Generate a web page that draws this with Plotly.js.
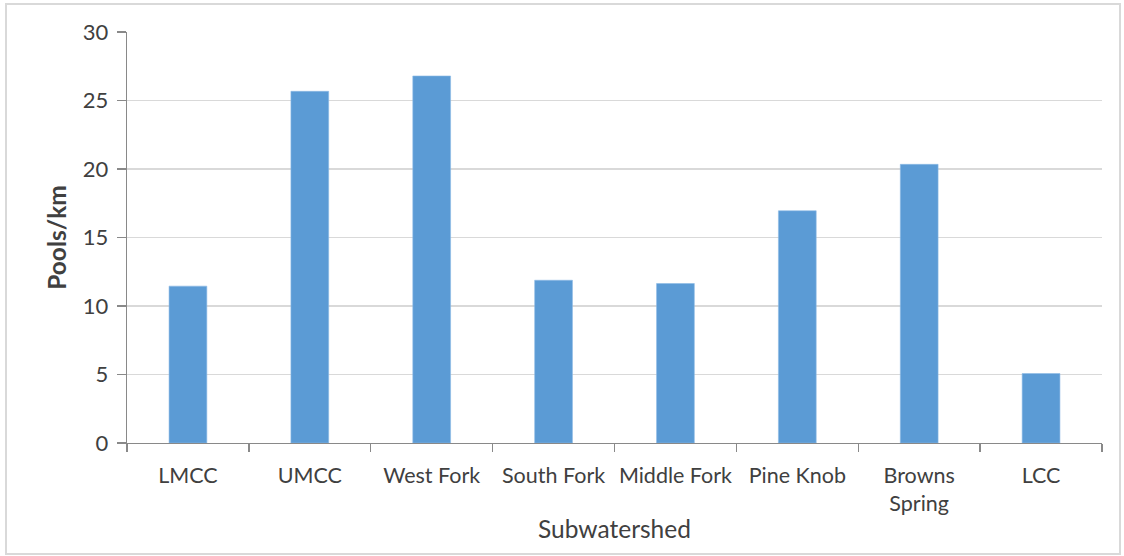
<!DOCTYPE html>
<html>
<head>
<meta charset="utf-8">
<script src="https://cdn.plot.ly/plotly-3.0.1.min.js"></script>
<style>
  html, body { margin: 0; padding: 0; background: #ffffff; }
  #chart { width: 1124px; height: 556px; }
</style>
</head>
<body>
<div id="chart"></div>
<script>
// Pool density by subwatershed
const subwatersheds = ["LMCC", "UMCC", "West Fork", "South Fork", "Middle Fork", "Pine Knob", "Browns<br>Spring", "LCC"];
const poolsPerKm = [11.45, 25.67, 26.79, 11.88, 11.64, 16.95, 20.34, 5.07];
const yTickValues = [0, 5, 10, 15, 20, 25, 30];

const FONT = "Lato, 'Open Sans', sans-serif";
const TEXT = "#404040";

const trace = {
  type: "bar",
  x: subwatersheds,
  y: poolsPerKm,
  marker: { color: "#5B9BD5", line: { color: "#8DBBE6", width: 0.6 } },
  hoverinfo: "x+y"
};

// Plot area spans x 127..1102, y 32..443 in page pixels
const L = 127, R = 22, T = 32, B = 113;
const plotW = 1124 - L - R, plotH = 556 - T - B;
const px = v => (v - L) / plotW;
const py = v => (556 - B - v) / plotH;

const layout = {
  width: 1124,
  height: 556,
  margin: { l: L, r: R, t: T, b: B, pad: 0 },
  paper_bgcolor: "#ffffff",
  plot_bgcolor: "#ffffff",
  font: { family: FONT, color: TEXT, size: 22 },
  bargap: 0.69,
  showlegend: false,
  xaxis: {
    type: "category",
    showgrid: false,
    showline: true,
    linecolor: "#898989",
    linewidth: 1.3,
    ticks: "outside",
    tickson: "boundaries",
    ticklen: 8,
    tickwidth: 1.3,
    tickcolor: "#898989",
    tickangle: 0,
    ticklabelstandoff: 13,
    tickfont: { family: FONT, size: 21.5, color: TEXT },
    title: { text: "Subwatershed", font: { family: FONT, size: 24.5, color: TEXT }, standoff: 5 },
    fixedrange: true
  },
  yaxis: {
    range: [0, 30],
    tickvals: yTickValues,
    showgrid: true,
    gridcolor: "#D9D9D9",
    gridwidth: 1.3,
    zeroline: false,
    showline: true,
    linecolor: "#898989",
    linewidth: 1.3,
    ticks: "outside",
    ticklen: 9,
    tickwidth: 1.3,
    tickcolor: "#898989",
    ticklabelstandoff: 4,
    tickfont: { family: FONT, size: 22, color: TEXT },
    title: { text: "<b>Pools/km</b>", font: { family: FONT, size: 24.5, color: TEXT }, standoff: 9 },
    fixedrange: true
  },
  shapes: [{
    type: "rect", xref: "paper", yref: "paper",
    x0: px(6), x1: px(1120), y0: py(554), y1: py(4),
    line: { color: "#D9D9D9", width: 2 },
    layer: "below"
  }]
};

Plotly.newPlot("chart", [trace], layout, { displayModeBar: false, staticPlot: true });
</script>
</body>
</html>
